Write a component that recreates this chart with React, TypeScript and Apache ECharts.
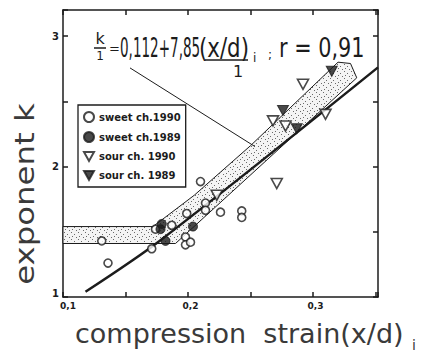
import React, { useEffect, useRef } from "react";
import * as echarts from "echarts";

// ---- data ----
const sweet1990X = [0.131, 0.136, 0.171, 0.174, 0.187, 0.198, 0.198, 0.202, 0.199, 0.210, 0.214, 0.214, 0.226, 0.243, 0.243];
const sweet1990Y = [1.43, 1.26, 1.37, 1.52, 1.55, 1.46, 1.40, 1.42, 1.64, 1.885, 1.72, 1.665, 1.65, 1.66, 1.61];
const sweet1989X = [0.179, 0.178, 0.182, 0.204];
const sweet1989Y = [1.56, 1.52, 1.43, 1.54];
const sour1990X = [0.223, 0.271, 0.292, 0.268, 0.278, 0.310];
const sour1990Y = [1.78, 1.87, 2.63, 2.35, 2.31, 2.40];
const sour1989X = [0.315, 0.276, 0.287];
const sour1989Y = [2.73, 2.43, 2.29];
const regX = [0.118, 0.178, 0.352];
const regY = [1.04, 1.435, 2.76];
const bandX = [0.1, 0.172, 0.205, 0.250, 0.320, 0.330, 0.335, 0.19, 0.1];
const bandY = [1.54, 1.54, 1.78, 2.16, 2.80, 2.79, 2.68, 1.41, 1.41];
const leaderX = [0.1536, 0.2536];
const leaderY = [2.756, 2.153];
const xTickLabels = ["0,1", "0,2", "0,3"];
const yTickLabels = ["1", "2", "3"];
const seriesNames = ["sweet ch.1990", "sweet ch.1989", "sour ch. 1990", "sour ch. 1989"];

const zip = (xs: number[], ys: number[]) => xs.map((x, i) => [x, ys[i]]);

const INK = "#1c1c1c";
const TXT = "#3a3a3a";
const TRI = "path://M0,0L10,0L5,9Z";

export default function App() {
  const ref = useRef<HTMLDivElement>(null);
  useEffect(() => {
    if (!ref.current) return;
    const chart = echarts.init(ref.current, undefined, { renderer: "svg" });

    // stipple pattern
    const cv = document.createElement("canvas");
    cv.width = 7;
    cv.height = 7;
    const cx = cv.getContext("2d")!;
    cx.fillStyle = "#f4f4f4";
    cx.fillRect(0, 0, 7, 7);
    cx.fillStyle = "#6a6a6a";
    cx.fillRect(1, 1, 1, 1);
    cx.fillRect(4, 3, 1, 1);
    cx.fillRect(2, 5, 1, 1);
    cx.fillRect(6, 6, 1, 1);

    const xLab = (v: number) => {
      const r = Math.round(v * 100) / 100;
      const i = [0.1, 0.2, 0.3].findIndex((t) => Math.abs(t - r) < 1e-6);
      if (i < 0) return "";
      return i === 0 ? "{f|" + xTickLabels[i] + "}" : "{n|" + xTickLabels[i] + "}";
    };
    const yLab = (v: number) => {
      const r = Math.round(v * 100) / 100;
      const i = [1, 2, 3].findIndex((t) => Math.abs(t - r) < 1e-6);
      if (i < 0) return "";
      return i === 0 ? "{f|" + yTickLabels[i] + "}" : "{n|" + yTickLabels[i] + "}";
    };
    const lblFont = { color: INK, fontSize: 9, fontWeight: "bold", fontFamily: "DejaVu Sans" };

    const axisCommon = {
      axisLine: { show: true, onZero: false, lineStyle: { color: INK, width: 1.5 } },
      axisTick: { show: true, inside: true, length: 5, lineStyle: { color: INK, width: 1.5 } },
      splitLine: { show: false },
    };

    const txt = (o: any) => ({ type: "text", silent: true, ...o });

    chart.setOption({
      animation: false,
      backgroundColor: "#ffffff",
      grid: { left: 63, right: 43, top: 10, bottom: 55 },
      xAxis: [
        {
          type: "value", min: 0.1, max: 0.352, interval: 0.05, position: "bottom",
          ...axisCommon,
          axisLabel: {
            formatter: xLab, margin: 4, ...lblFont,
            rich: { f: { ...lblFont, padding: [0, 0, 0, 10] }, n: { ...lblFont, padding: [0, 0, 0, 5] } },
          },
        },
        {
          type: "value", min: 0.1, max: 0.352, interval: 0.05, position: "top",
          ...axisCommon, axisLabel: { show: false },
        },
      ],
      yAxis: [
        {
          type: "value", min: 1, max: 3.2, interval: 0.5, position: "left",
          ...axisCommon,
          axisLabel: {
            formatter: yLab, margin: 4, ...lblFont, fontSize: 10,
            rich: { f: { ...lblFont, fontSize: 10, padding: [0, 0, 8, 0] }, n: { ...lblFont, fontSize: 10 } },
          },
        },
        {
          type: "value", min: 1, max: 3.2, interval: 0.5, position: "right",
          ...axisCommon, axisLabel: { show: false },
        },
      ],
      legend: {
        data: seriesNames,
        orient: "vertical",
        left: 78,
        top: 105,
        itemWidth: 10,
        itemHeight: 10,
        itemGap: 8,
        padding: [6, 5, 6, 5],
        borderColor: INK,
        borderWidth: 1.3,
        backgroundColor: "#fff",
        textStyle: { fontSize: 10, fontWeight: "bold", color: INK, fontFamily: "DejaVu Sans" },
      },
      series: [
        {
          type: "custom",
          name: "band",
          silent: true,
          z: 1,
          data: [[bandX[0], bandY[0]]],
          renderItem: (params: any, api: any) => {
            const pts = bandX.map((x, i) => api.coord([x, bandY[i]]));
            return {
              type: "polygon",
              shape: { points: pts },
              style: { fill: { image: cv, repeat: "repeat" }, stroke: INK, lineWidth: 1 },
            };
          },
        },
        {
          type: "line", name: "regression", data: zip(regX, regY), symbol: "none", smooth: 0.3,
          lineStyle: { color: INK, width: 2.5 }, z: 3, silent: true,
        },
        {
          type: "line", name: "leader", data: zip(leaderX, leaderY), symbol: "none",
          lineStyle: { color: INK, width: 1 }, z: 3, silent: true,
        },
        {
          type: "scatter", name: seriesNames[0], data: zip(sweet1990X, sweet1990Y),
          symbol: "circle", symbolSize: 8, z: 5,
          itemStyle: { color: "#fff", borderColor: INK, borderWidth: 1.6 },
        },
        {
          type: "scatter", name: seriesNames[1], data: zip(sweet1989X, sweet1989Y),
          symbol: "circle", symbolSize: 9, z: 5,
          itemStyle: { color: INK, borderColor: INK, borderWidth: 1 },
        },
        {
          type: "scatter", name: seriesNames[2], data: zip(sour1990X, sour1990Y),
          symbol: TRI, symbolSize: [11, 10], z: 5,
          itemStyle: { color: "#fff", borderColor: INK, borderWidth: 1.6 },
        },
        {
          type: "scatter", name: seriesNames[3], data: zip(sour1989X, sour1989Y),
          symbol: TRI, symbolSize: [11, 10], z: 5,
          itemStyle: { color: INK, borderColor: INK, borderWidth: 1 },
        },
      ],
      graphic: [
        // equation
        txt({ x: 100, y: 38, style: { text: "k", fontSize: 16, fontFamily: "DejaVu Sans", fill: INK, textAlign: "center", textVerticalAlign: "middle" } }),
        { type: "line", silent: true, shape: { x1: 94, y1: 48, x2: 106, y2: 48 }, style: { stroke: INK, lineWidth: 1.5 } },
        txt({ x: 100, y: 56, style: { text: "1", fontSize: 12, fontFamily: "DejaVu Sans", fill: INK, textAlign: "center", textVerticalAlign: "middle" } }),
        txt({ x: 109, y: 48, style: { text: "=", fontSize: 13, fontFamily: "DejaVu Sans", fill: INK, textAlign: "left", textVerticalAlign: "middle" } }),
        txt({ x: 120, y: 48, scaleX: 0.52, style: { text: "0,112+7,85", fontSize: 26, fontFamily: "DejaVu Sans", fill: INK, textAlign: "left", textVerticalAlign: "middle" } }),
        txt({ x: 199, y: 48, scaleX: 0.82, style: { text: "(x/d)", fontSize: 26, fontFamily: "DejaVu Sans", fill: INK, textAlign: "left", textVerticalAlign: "middle" } }),
        { type: "line", silent: true, shape: { x1: 205, y1: 60, x2: 248, y2: 60 }, style: { stroke: INK, lineWidth: 1.5 } },
        txt({ x: 253, y: 58, style: { text: "i", fontSize: 12, fontFamily: "DejaVu Sans", fill: INK, textAlign: "left", textVerticalAlign: "middle" } }),
        txt({ x: 238, y: 71, style: { text: "1", fontSize: 16, fontFamily: "DejaVu Sans", fill: INK, textAlign: "center", textVerticalAlign: "middle" } }),
        txt({ x: 268, y: 55, style: { text: ";", fontSize: 12, fontFamily: "DejaVu Sans", fill: INK, textAlign: "left", textVerticalAlign: "middle" } }),
        txt({ x: 279, y: 48, scaleX: 0.8, style: { text: "r = 0,91", fontSize: 26, fontFamily: "DejaVu Sans", fill: INK, textAlign: "left", textVerticalAlign: "middle" } }),
        // axis titles
        txt({ x: 24, y: 194, rotation: Math.PI / 2, scaleX: 1.2, style: { text: "exponent k", fontSize: 27, fontFamily: "DejaVu Sans", fill: TXT, textAlign: "center", textVerticalAlign: "middle" } }),
        txt({ x: 75, y: 333, style: { text: "compression  strain(x/d)", fontSize: 27, fontFamily: "DejaVu Sans", fill: TXT, textAlign: "left", textVerticalAlign: "middle" } }),
        txt({ x: 412, y: 345, style: { text: "i", fontSize: 14, fontFamily: "DejaVu Sans", fill: TXT, textAlign: "left", textVerticalAlign: "middle" } }),
      ],
    });
    return () => chart.dispose();
  }, []);
  return <div ref={ref} style={{ width: 421, height: 352, position: "absolute", left: 0, top: 0 }} />;
}
